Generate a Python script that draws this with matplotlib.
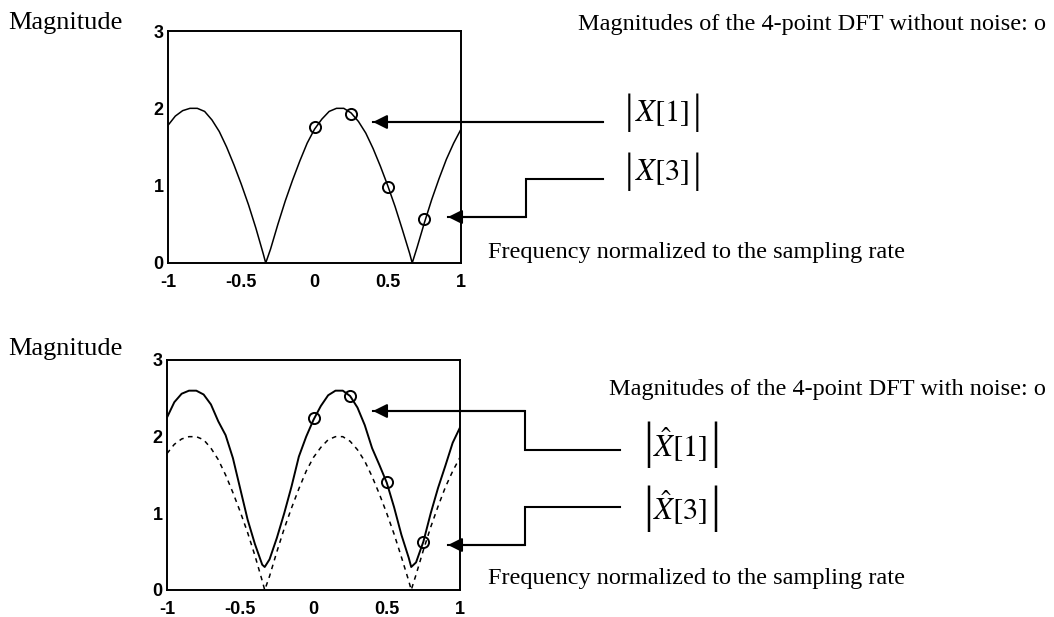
import matplotlib
matplotlib.use("Agg")
import matplotlib.pyplot as plt
from matplotlib.lines import Line2D
from matplotlib.patches import FancyArrowPatch

# normalized frequency grid and spectrum magnitudes
freq = [-1.0, -0.95, -0.9, -0.85, -0.8, -0.75, -0.7, -0.65, -0.6, -0.55, -0.5,
        -0.45, -0.4, -0.35, -0.333, -0.3, -0.25, -0.2, -0.15, -0.1, -0.05, 0.0,
        0.05, 0.1, 0.15, 0.2, 0.25, 0.3, 0.35, 0.4, 0.45, 0.5, 0.55, 0.6, 0.65,
        0.667, 0.7, 0.75, 0.8, 0.85, 0.9, 0.95, 1.0]
mag_clean = [1.78, 1.90, 1.97, 2.00, 2.00, 1.96, 1.85, 1.70, 1.50, 1.27, 1.02,
             0.75, 0.45, 0.12, 0.00, 0.18, 0.50, 0.80, 1.07, 1.32, 1.55, 1.73,
             1.86, 1.96, 2.00, 2.00, 1.94, 1.83, 1.68, 1.48, 1.25, 1.00, 0.73,
             0.43, 0.12, 0.00, 0.20, 0.52, 0.82, 1.09, 1.34, 1.55, 1.73]
mag_noisy = [2.25, 2.45, 2.56, 2.60, 2.60, 2.55, 2.42, 2.20, 2.02, 1.72, 1.32,
             0.92, 0.60, 0.33, 0.30, 0.40, 0.68, 1.00, 1.35, 1.74, 2.00, 2.22,
             2.40, 2.54, 2.60, 2.60, 2.53, 2.38, 2.15, 1.85, 1.63, 1.40, 1.08,
             0.72, 0.42, 0.30, 0.36, 0.63, 1.00, 1.33, 1.62, 1.92, 2.12]

# 4-point DFT bins
dft_freq = [0.0, 0.25, 0.5, 0.75]
dft_clean = [1.76, 1.93, 0.98, 0.57]
dft_noisy = [2.24, 2.53, 1.41, 0.63]

xticks = [-1, -0.5, 0, 0.5, 1]
xticklabels = ["-1", "-0.5", "0", "0.5", "1"]
yticks = [0, 1, 2, 3]

W, H = 1054, 617
plt.rcParams['mathtext.fontset'] = 'stix'
serif = 'Liberation Serif'
fig = plt.figure(figsize=(W / 100, H / 100), dpi=100)


def fx(px):
    return px / W


def fy(py):
    return 1 - py / H


def setup(ax):
    ax.set_xlim(-1, 1)
    ax.set_ylim(0, 3)
    ax.set_xticks(xticks)
    ax.set_xticklabels(xticklabels)
    ax.set_yticks(yticks)
    ax.tick_params(length=0, labelsize=13)
    ax.tick_params(axis='x', pad=8)
    ax.tick_params(axis='y', pad=3)
    for lab in ax.get_xticklabels() + ax.get_yticklabels():
        lab.set_fontfamily('Liberation Sans')
        lab.set_fontweight('bold')
    for s in ax.spines.values():
        s.set_linewidth(1.4)


def arrow(points):
    # polyline in pixel coords (top-left origin), arrowhead on the last point
    xs = [fx(p[0]) for p in points]
    ys = [fy(p[1]) for p in points]
    fig.add_artist(Line2D(xs, ys, transform=fig.transFigure, color='k', lw=1.5,
                          solid_joinstyle='miter'))
    fig.add_artist(FancyArrowPatch((xs[-2], ys[-2]), (xs[-1], ys[-1]),
                                   transform=fig.transFigure,
                                   arrowstyle='-|>,head_length=0.7,head_width=0.35',
                                   mutation_scale=12, color='k', lw=1.5,
                                   shrinkA=0, shrinkB=0))


def abs_label(expr, left, right, mid, base, bar_size):
    # |expr| with tall bars
    fig.text(fx(left), fy(mid), "|", family=serif, fontsize=bar_size,
             ha='center', va='center')
    fig.text(fx(right), fy(mid), "|", family=serif, fontsize=bar_size,
             ha='center', va='center')
    fig.text(fx((left + right) / 2 - 1), fy(base), expr, fontsize=22,
             ha='center', va='baseline')


# top: no noise
ax1 = fig.add_axes([fx(168), fy(263), fx(461) - fx(168), fy(31) - fy(263)])
setup(ax1)
ax1.plot(freq, mag_clean, color='k', lw=1.1)
ax1.plot(dft_freq, dft_clean, 'o', mfc='none', mec='k', ms=8, mew=1.4)

# bottom: with noise
ax2 = fig.add_axes([fx(167), fy(590), fx(460) - fx(167), fy(360) - fy(590)])
setup(ax2)
ax2.plot(freq, mag_clean, color='k', lw=1.1, linestyle=(0, (3, 3)))
ax2.plot(freq, mag_noisy, color='k', lw=1.4)
ax2.plot(dft_freq, dft_noisy, 'o', mfc='none', mec='k', ms=8, mew=1.4)

# texts
fig.text(fx(8), fy(29), "Magnitude", family=serif, fontsize=19, va='baseline')
fig.text(fx(8), fy(355), "Magnitude", family=serif, fontsize=19, va='baseline')
fig.text(fx(1046), fy(30), "Magnitudes of the 4-point DFT without noise: o",
         family=serif, fontsize=17.5, ha='right', va='baseline')
fig.text(fx(1046), fy(395), "Magnitudes of the 4-point DFT with noise: o",
         family=serif, fontsize=17.5, ha='right', va='baseline')
fig.text(fx(488), fy(258), "Frequency normalized to the sampling rate",
         family=serif, fontsize=17.5, va='baseline')
fig.text(fx(488), fy(584), "Frequency normalized to the sampling rate",
         family=serif, fontsize=17.5, va='baseline')

abs_label(r'$X[1]$', 629, 697, 112.5, 121, 31)
abs_label(r'$X[3]$', 629, 697, 172, 180, 31)
abs_label(r'$\hat{X}[1]$', 648, 715, 445, 457, 36)
abs_label(r'$\hat{X}[3]$', 648, 715, 509, 520, 36)

# arrows to the DFT bins
arrow([(603, 122), (373, 122)])
arrow([(603, 179), (526, 179), (526, 217), (448, 217)])
arrow([(620, 450), (525, 450), (525, 411), (373, 411)])
arrow([(620, 507), (525, 507), (525, 545), (448, 545)])

fig.savefig("out.png", dpi=100)
